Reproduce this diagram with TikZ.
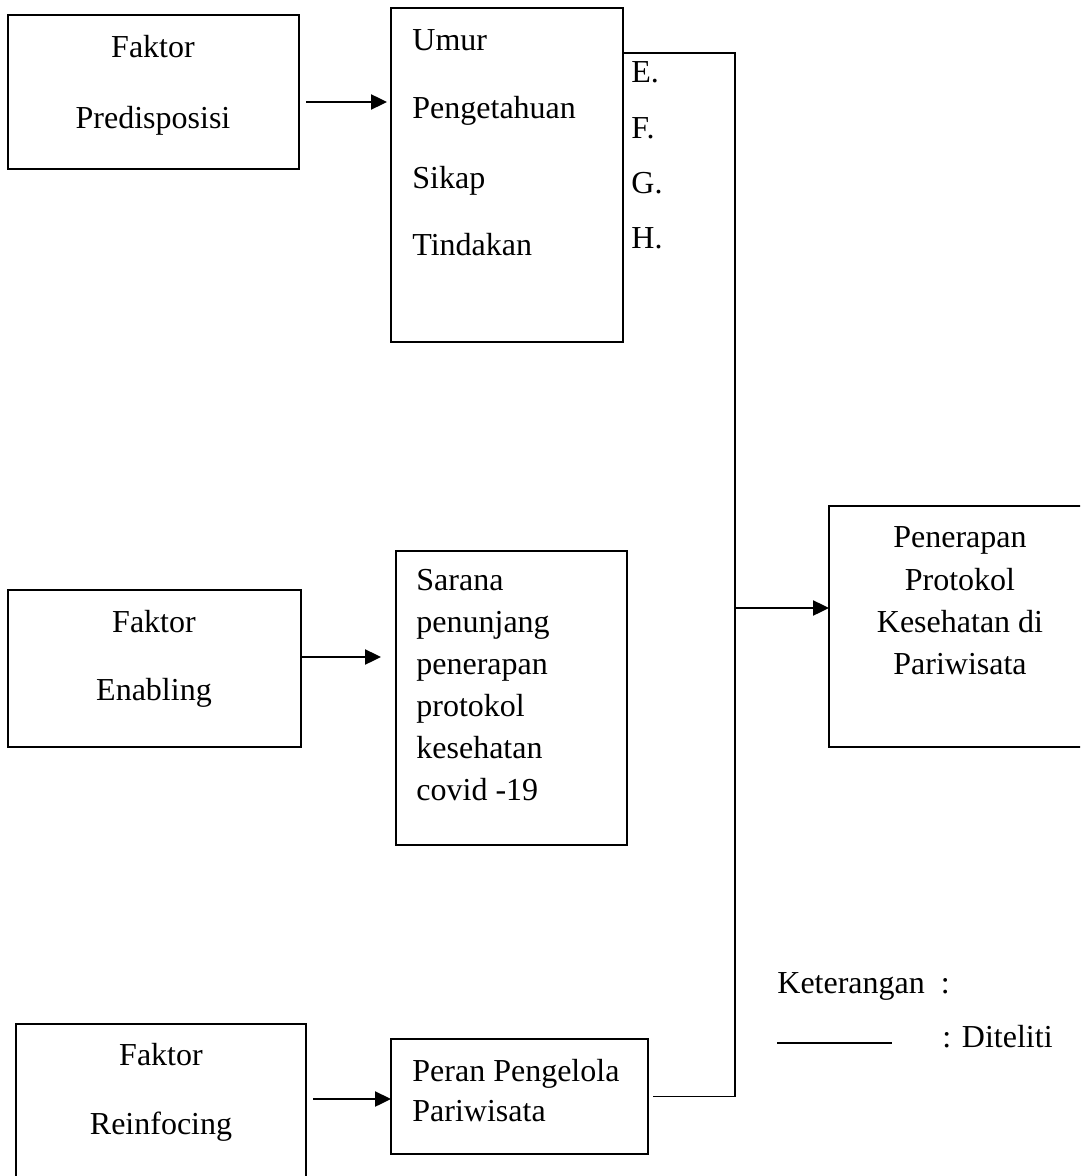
\documentclass[tikz,border=0pt]{standalone}
\usepackage{fontspec}
\setmainfont{Liberation Serif}
\usetikzlibrary{arrows.meta}

\begin{document}
\begin{tikzpicture}[x=0.5pt,y=-0.5pt,>={Triangle[length=8pt,width=7.5pt]},
  every node/.style={font=\fontsize{16}{19}\selectfont},
  box/.style={draw,line width=1pt,inner sep=0pt,outer sep=0pt},
  txt/.style={inner sep=0pt,text height=11pt,text depth=3.5pt,yshift=-1.5pt},
  arr/.style={->,line width=1.2pt},
  wire/.style={line width=0.8pt}]
\useasboundingbox (0,0) rectangle (1080,1176);
\clip (0,0) rectangle (1080,1176);
% boxes
\node[box,minimum width=145.5pt,minimum height=77pt] (pred) at (153.5,92) {};
\node[box,minimum width=116pt,minimum height=167pt] (umur) at (507,175) {};
\node[box,minimum width=146.5pt,minimum height=78.5pt] (enab) at (154.5,668.5) {};
\node[box,minimum width=115.5pt,minimum height=147pt] (sarana) at (511.5,698) {};
\node[box,minimum width=145pt,minimum height=88pt] (reinf) at (161,1112) {};
\node[box,minimum width=128.5pt,minimum height=57.5pt] (peran) at (519.5,1096.5) {};
\node[box,minimum width=140.5pt,minimum height=120.5pt] (pen) at (969.5,626.5) {};
% texts
\node[txt] (pred1) at (153,47) {Faktor};
\node[txt] (pred2) at (153,118) {Predisposisi};
\node[txt,anchor=west] (u1) at (412,40) {Umur};
\node[txt,anchor=west] (u2) at (412,108) {Pengetahuan};
\node[txt,anchor=west] (u3) at (412,178) {Sikap};
\node[txt,anchor=west] (u4) at (412,245) {Tindakan};
\node[txt,anchor=west] (e) at (631,72) {E.};
\node[txt,anchor=west] (f) at (631,128) {F.};
\node[txt,anchor=west] (g) at (631,183) {G.};
\node[txt,anchor=west] (h) at (631,238) {H.};
\node[txt] (enab1) at (154,622) {Faktor};
\node[txt] (enab2) at (154,690) {Enabling};
\node[txt,anchor=west] (s1) at (416,580) {Sarana};
\node[txt,anchor=west] (s2) at (416,622) {penunjang};
\node[txt,anchor=west] (s3) at (416,664) {penerapan};
\node[txt,anchor=west] (s4) at (416,706) {protokol};
\node[txt,anchor=west] (s5) at (416,748) {kesehatan};
\node[txt,anchor=west] (s6) at (416,790) {covid -19};
\node[txt] (reinf1) at (161,1055) {Faktor};
\node[txt] (reinf2) at (161,1124) {Reinfocing};
\node[txt,anchor=west] (p1) at (412,1071) {Peran Pengelola};
\node[txt,anchor=west] (p2) at (412,1111) {Pariwisata};
\node[txt] (pen1) at (960,537) {Penerapan};
\node[txt] (pen2) at (960,580) {Protokol};
\node[txt] (pen3) at (960,622) {Kesehatan di};
\node[txt] (pen4) at (960,664) {Pariwisata};
% connectors
\coordinate (jn) at (735,608);
\draw[arr,shorten <=3.5pt,shorten >=2pt] ([yshift=-5pt]pred.east) -- ([yshift=-5pt]pred.east -| umur.west);
\draw[arr,shorten >=7.5pt] ([yshift=5.75pt]enab.east) -- ([yshift=5.75pt]enab.east -| sarana.west);
\draw[arr,shorten <=3.5pt] ([yshift=6.5pt]reinf.east) -- ([yshift=6.5pt]reinf.east -| peran.west);
\draw[wire] ([yshift=-22.5pt]umur.north east) -| (jn) |- ([xshift=2.5pt]peran.east);
\draw[arr] (jn) -- (jn -| pen.west);
% legend
\node[txt,anchor=west] (ket) at (777,983) {Keterangan\hspace{8pt}:};
\coordinate (legA) at (777,1043);
\coordinate (legB) at (892,1043);
\draw[line width=1.2pt] (legA) -- (legB);
\node[txt,anchor=west] (dit) at (942,1037) {: Diteliti};
\end{tikzpicture}
\end{document}
